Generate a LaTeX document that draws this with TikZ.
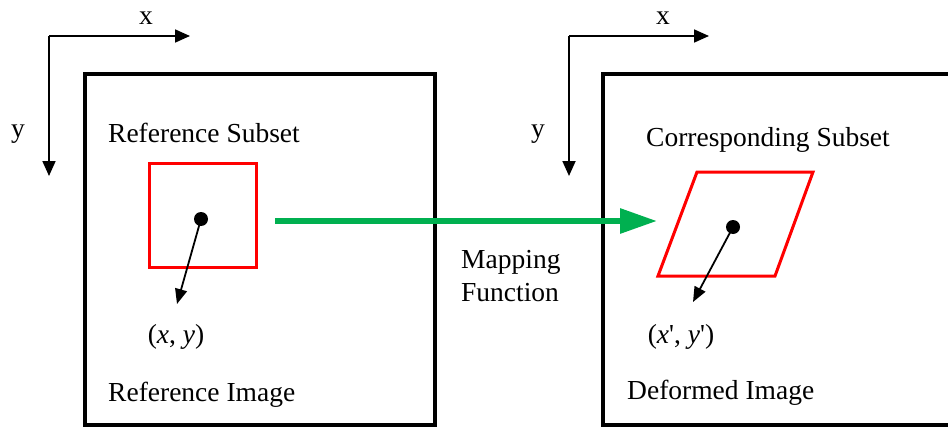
\documentclass[tikz,border=0pt]{standalone}
\usepackage{fontspec}
\setmainfont{Liberation Serif}
\usetikzlibrary{arrows.meta, positioning}
\definecolor{subsetred}{RGB}{255, 0, 0}
\definecolor{mapgreen}{RGB}{0, 176, 80}

\begin{document}
\begin{tikzpicture}[x=1pt, y=-1pt, every node/.style={font=\fontsize{27.5}{33}\selectfont, inner sep=0pt},
  frame/.style={line width=3.5pt},
  axis/.style={line width=1.8pt, -{Triangle[length=15pt, width=13pt]}},
  subset/.style={draw=subsetred, line width=3pt},
  dot/.style={circle, fill=black, minimum size=14pt},
  vec/.style={line width=1.8pt, -{Triangle[length=15pt, width=12pt]}}]
\useasboundingbox (0,0) rectangle (948,428);
\clip (0,0) rectangle (948,428);
% image frames
\draw[frame] (85,74) rectangle (435,425);
\draw[frame] (603,74) rectangle (990,425);
% axes
\coordinate (o1) at (49,36);
\coordinate (o1x) at (190,36);
\coordinate (o1y) at (49,176);
\draw[axis] (o1) -- (o1x);
\draw[axis] (o1) -- (o1y);
\node (lx1) at (146,18) {x};
\node (ly1) at (18,134) {y};
\coordinate (o2) at (569,36);
\coordinate (o2x) at (709,36);
\coordinate (o2y) at (569,176);
\draw[axis] (o2) -- (o2x);
\draw[axis] (o2) -- (o2y);
\node (lx2) at (663,18) {x};
\node (ly2) at (538,134) {y};
% reference subset
\node (rs) at (204,133) {Reference Subset};
\draw[subset] (149,163) rectangle (256,267);
\node[dot] (p1) at (201,219) {};
\coordinate (q1) at (177,304);
\draw[vec] (p1.center) -- (q1);
\node (xy) at (176,337) {(\textit{x}, \textit{y})};
\node[anchor=west] (ri) at (108,395) {Reference Image};
% corresponding subset
\node (cs) at (768,140) {Corresponding Subset};
\draw[subset] (697,172) -- (813,172) -- (775,276) -- (658,276) -- cycle;
\node[dot] (p2) at (733,227) {};
\coordinate (q2) at (693,302);
\draw[vec] (p2.center) -- (q2);
\node (xyd) at (681,337) {(\textit{x}\textquotesingle, \textit{y}\textquotesingle)};
\node[anchor=west] (di) at (627,393) {Deformed Image};
% mapping
\coordinate (m1) at (275,221);
\coordinate (m2) at (657,221);
\draw[line width=6pt, mapgreen, -{Triangle[length=37pt, width=24pt]}] (m1) -- (m2);
\node[anchor=north west, align=left] (mf) at (461,250) {Mapping\\Function};
\end{tikzpicture}
\end{document}
